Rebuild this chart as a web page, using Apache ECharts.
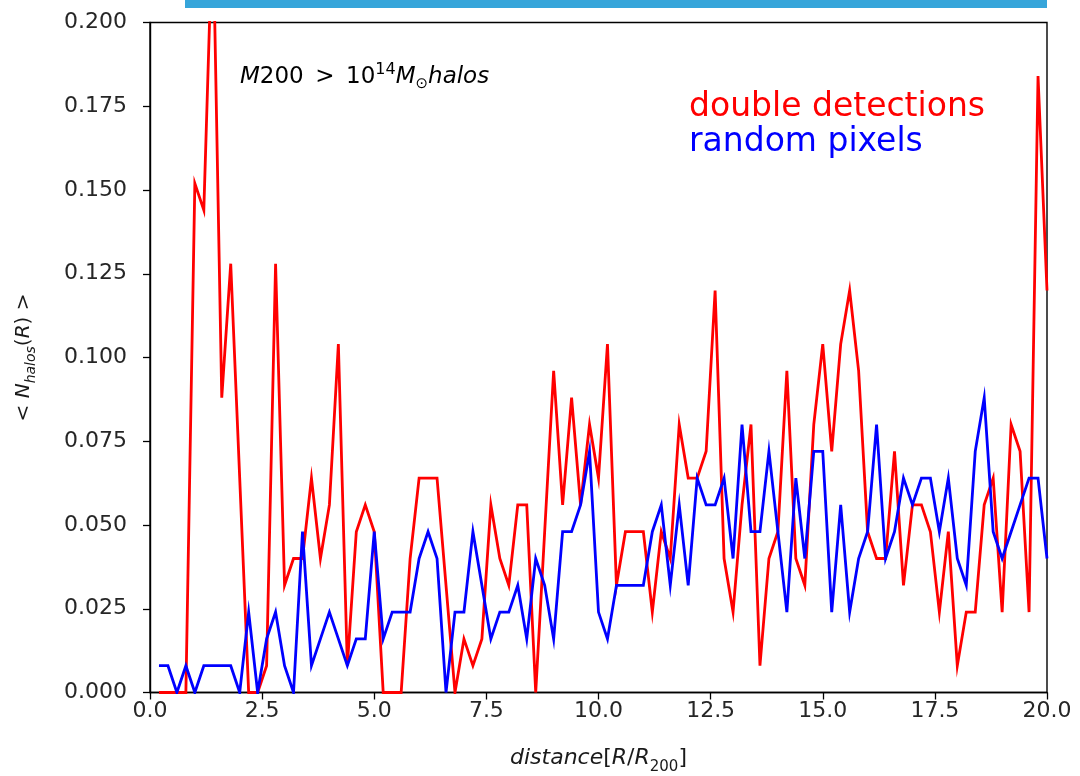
<!DOCTYPE html>
<html>
<head>
<meta charset="utf-8">
<script src="https://cdn.jsdelivr.net/npm/echarts@6/dist/echarts.min.js"></script>
<style>
  html, body { margin: 0; padding: 0; background: #ffffff; }
  #chart { width: 1080px; height: 776px; }
</style>
</head>
<body>
<div id="chart"></div>
<script>
// ---- data ----
const distances = [
  0.2, 0.4, 0.6, 0.8, 1.0, 1.2, 1.4, 1.6, 1.8, 2.0,
  2.2, 2.4, 2.6, 2.8, 3.0, 3.2, 3.4, 3.6, 3.8, 4.0,
  4.2, 4.4, 4.6, 4.8, 5.0, 5.2, 5.4, 5.6, 5.8, 6.0,
  6.2, 6.4, 6.6, 6.8, 7.0, 7.2, 7.4, 7.6, 7.8, 8.0,
  8.2, 8.4, 8.6, 8.8, 9.0, 9.2, 9.4, 9.6, 9.8, 10.0,
  10.2, 10.4, 10.6, 10.8, 11.0, 11.2, 11.4, 11.6, 11.8, 12.0,
  12.2, 12.4, 12.6, 12.8, 13.0, 13.2, 13.4, 13.6, 13.8, 14.0,
  14.2, 14.4, 14.6, 14.8, 15.0, 15.2, 15.4, 15.6, 15.8, 16.0,
  16.2, 16.4, 16.6, 16.8, 17.0, 17.2, 17.4, 17.6, 17.8, 18.0,
  18.2, 18.4, 18.6, 18.8, 19.0, 19.2, 19.4, 19.6, 19.8, 20.0
];

const doubleDetections = [
  0.000, 0.000, 0.000, 0.000, 0.152, 0.144, 0.232, 0.088, 0.128, 0.064,
  0.000, 0.000, 0.008, 0.128, 0.032, 0.040, 0.040, 0.064, 0.040, 0.056,
  0.104, 0.008, 0.048, 0.056, 0.048, 0.000, 0.000, 0.000, 0.040, 0.064,
  0.064, 0.064, 0.032, 0.000, 0.016, 0.008, 0.016, 0.056, 0.040, 0.032,
  0.056, 0.056, 0.000, 0.048, 0.096, 0.056, 0.088, 0.056, 0.080, 0.064,
  0.104, 0.032, 0.048, 0.048, 0.048, 0.024, 0.048, 0.040, 0.080, 0.064,
  0.064, 0.072, 0.120, 0.040, 0.024, 0.056, 0.080, 0.008, 0.040, 0.048,
  0.096, 0.040, 0.032, 0.080, 0.104, 0.072, 0.104, 0.120, 0.096, 0.048,
  0.040, 0.040, 0.072, 0.032, 0.056, 0.056, 0.048, 0.024, 0.048, 0.008,
  0.024, 0.024, 0.056, 0.064, 0.024, 0.080, 0.072, 0.024, 0.184, 0.120
];

const randomPixels = [
  0.008, 0.008, 0.000, 0.008, 0.000, 0.008, 0.008, 0.008, 0.008, 0.000,
  0.024, 0.000, 0.016, 0.024, 0.008, 0.000, 0.048, 0.008, 0.016, 0.024,
  0.016, 0.008, 0.016, 0.016, 0.048, 0.016, 0.024, 0.024, 0.024, 0.040,
  0.048, 0.040, 0.000, 0.024, 0.024, 0.048, 0.032, 0.016, 0.024, 0.024,
  0.032, 0.016, 0.040, 0.032, 0.016, 0.048, 0.048, 0.056, 0.072, 0.024,
  0.016, 0.032, 0.032, 0.032, 0.032, 0.048, 0.056, 0.032, 0.056, 0.032,
  0.064, 0.056, 0.056, 0.064, 0.040, 0.080, 0.048, 0.048, 0.072, 0.048,
  0.024, 0.064, 0.040, 0.072, 0.072, 0.024, 0.056, 0.024, 0.040, 0.048,
  0.080, 0.040, 0.048, 0.064, 0.056, 0.064, 0.064, 0.048, 0.064, 0.040,
  0.032, 0.072, 0.088, 0.048, 0.040, 0.048, 0.056, 0.064, 0.064, 0.040
];

const seriesNames = ['double detections', 'random pixels'];
const seriesColors = ['#ff0000', '#0000ff'];

const xRange = [0, 20];
const xTickStep = 2.5;
const yRange = [0, 0.2];
const yTickStep = 0.025;

// ---- chart ----
const FONT = "'DejaVu Sans', sans-serif";
const INK = '#1a1a1a';
const chart = echarts.init(document.getElementById('chart'), null, { renderer: 'canvas' });

const pairs = (ys) => distances.map((d, i) => [d, ys[i]]);

function mathRich(size) {
  const small = Math.round(size * 0.7);
  const lh = Math.round(size * 1.45);
  return {
    n:   { fontFamily: FONT, fontSize: size, color: INK, lineHeight: lh },
    it:  { fontFamily: FONT, fontSize: size, fontStyle: 'italic', color: INK, lineHeight: lh },
    sub: { fontFamily: FONT, fontSize: small, fontStyle: 'italic', color: INK, lineHeight: small + 1, verticalAlign: 'bottom' },
    subn:{ fontFamily: FONT, fontSize: small, color: INK, lineHeight: small + 1, verticalAlign: 'bottom' },
    sup: { fontFamily: FONT, fontSize: small, color: INK, lineHeight: small + 1, verticalAlign: 'top' }
  };
}

const option = {
  animation: false,
  backgroundColor: '#ffffff',
  grid: {
    left: 150, right: 33, top: 22.5, bottom: 83.5,
    containLabel: false,
    outerBoundsMode: 'none',
    show: true, borderColor: '#000000', borderWidth: 1.4, backgroundColor: 'transparent'
  },
  xAxis: {
    type: 'value',
    min: xRange[0], max: xRange[1], interval: xTickStep,
    name: '{it|distance}{n|[}{it|R}{n|/}{it|R}{subn|200}{n|]}',
    nameLocation: 'middle',
    nameGap: 50,
    nameTextStyle: { rich: mathRich(22) },
    axisLine: { show: true, onZero: false, lineStyle: { color: '#000000', width: 1.4 } },
    axisTick: { show: true, inside: false, length: 7, lineStyle: { color: '#000000', width: 1.3 } },
    axisLabel: {
      formatter: (v) => v.toFixed(1),
      fontFamily: FONT, fontSize: 22, color: '#262626', margin: 8
    },
    splitLine: { show: false }
  },
  yAxis: {
    type: 'value',
    min: yRange[0], max: yRange[1], interval: yTickStep,
    name: '{n|< }{it|N}{sub|halos}{n|(}{it|R}{n|) >}',
    nameLocation: 'middle',
    nameRotate: 90,
    nameGap: 112,
    nameTextStyle: { rich: mathRich(20) },
    axisLine: { show: true, onZero: false, lineStyle: { color: '#000000', width: 1.4 } },
    axisTick: { show: true, inside: false, length: 7, lineStyle: { color: '#000000', width: 1.3 } },
    axisLabel: {
      formatter: (v) => v.toFixed(3),
      fontFamily: FONT, fontSize: 22, color: '#262626', margin: 23
    },
    splitLine: { show: false }
  },
  series: seriesNames.map((name, k) => ({
    name: name,
    type: 'line',
    data: pairs(k === 0 ? doubleDetections : randomPixels),
    showSymbol: false,
    symbol: 'none',
    clip: true,
    lineStyle: { color: seriesColors[k], width: 2.8, join: 'miter' },
    z: 2 + k
  })),
  graphic: [
    {
      type: 'rect', left: 185, top: 0, z: 10,
      shape: { width: 862, height: 8 },
      style: { fill: '#36a5da' }
    },
    {
      type: 'text', left: 240, top: 62, z: 10,
      style: {
        text: '{it|M}{n|200\u2002>\u200210}{sup|14}{it|M}{subn|⊙}{it|halos}',
        rich: {
          n:   { fontFamily: FONT, fontSize: 23, color: INK, lineHeight: 30 },
          it:  { fontFamily: FONT, fontSize: 23, fontStyle: 'italic', color: INK, lineHeight: 30 },
          sup: { fontFamily: FONT, fontSize: 16, color: INK, lineHeight: 12, verticalAlign: 'top' },
          subn:{ fontFamily: FONT, fontSize: 15, color: INK, lineHeight: 12, verticalAlign: 'bottom' }
        }
      }
    },
    {
      type: 'text', left: 689, top: 91, z: 10,
      style: { text: seriesNames[0], fontFamily: FONT, fontSize: 33, fill: seriesColors[0] }
    },
    {
      type: 'text', left: 689, top: 126, z: 10,
      style: { text: seriesNames[1], fontFamily: FONT, fontSize: 33, fill: seriesColors[1] }
    }
  ]
};

chart.setOption(option);
</script>
</body>
</html>
